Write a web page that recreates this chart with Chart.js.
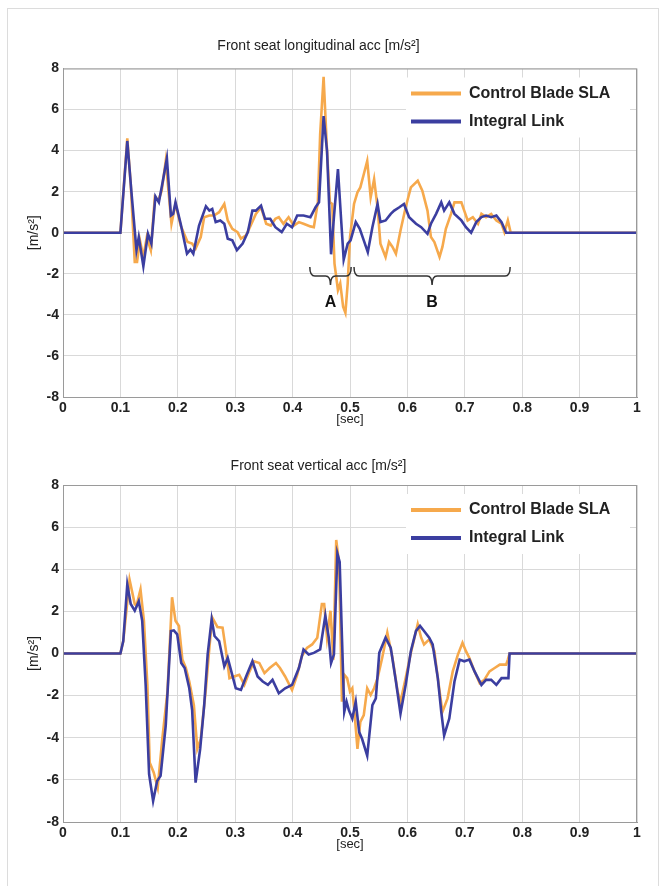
<!DOCTYPE html>
<html>
<head>
<meta charset="utf-8">
<script src="https://cdn.jsdelivr.net/npm/chart.js@4"></script>
<style>
  body { margin: 0; background: #fff; }
  #frame { position: absolute; left: 7px; top: 8px; width: 650px; height: 900px; border: 1px solid #dcdcdc; }
  canvas { position: absolute; left: 0; }
  #longChart { top: 0; }
  #vertChart { top: 443px; }
</style>
</head>
<body>
<div id="frame"></div>
<canvas id="longChart" width="666" height="443"></canvas>
<canvas id="vertChart" width="666" height="443"></canvas>
<script>

const seriesNames = ['Control Blade SLA', 'Integral Link'];
const seriesColors = ['#F6A94C', '#3B3EA0'];

const xTicks = [0, 0.1, 0.2, 0.3, 0.4, 0.5, 0.6, 0.7, 0.8, 0.9, 1];
const yTicks = [-8, -6, -4, -2, 0, 2, 4, 6, 8];

// front seat longitudinal acc, Control Blade SLA
const tLongCtrl = [0, 0.1, 0.112, 0.118, 0.125, 0.129, 0.134, 0.140, 0.146, 0.153, 0.160, 0.166, 0.172, 0.179, 0.189, 0.196, 0.205, 0.217, 0.225, 0.231, 0.240, 0.246, 0.255, 0.263, 0.272, 0.281, 0.287, 0.295, 0.304, 0.310, 0.319, 0.327, 0.336, 0.345, 0.354, 0.362, 0.370, 0.376, 0.384, 0.393, 0.402, 0.411, 0.419, 0.431, 0.437, 0.444, 0.448, 0.454, 0.460, 0.465, 0.469, 0.473, 0.479, 0.483, 0.488, 0.492, 0.496, 0.500, 0.507, 0.513, 0.518, 0.524, 0.530, 0.536, 0.542, 0.548, 0.553, 0.562, 0.568, 0.574, 0.580, 0.588, 0.597, 0.606, 0.618, 0.626, 0.635, 0.641, 0.647, 0.656, 0.661, 0.667, 0.676, 0.682, 0.694, 0.699, 0.705, 0.714, 0.723, 0.729, 0.737, 0.746, 0.755, 0.764, 0.769, 0.775, 0.780, 1];
const longCtrl = [0, 0, 4.6, 2.37, -1.42, -1.42, -0.37, -1.18, -0.21, -0.85, 1.73, 1.56, 2.05, 3.5, 0.44, 1.4, 0.35, -0.45, -0.53, -0.77, -0.21, 0.76, 0.84, 0.84, 1.0, 1.4, 0.6, 0.19, 0.03, -0.29, -0.13, 0.35, 0.92, 1.24, 0.44, 0.35, 0.68, 0.76, 0.44, 0.76, 0.35, 0.52, 0.44, 0.31, 0.27, 1.48, 4.79, 7.6, 3.98, 1.48, 1.4, -1.5, -2.79, -2.47, -3.6, -3.9, -2.47, -0.21, 1.4, 1.97, 2.21, 2.85, 3.5, 1.73, 2.61, 1.24, -0.53, -1.18, -0.45, -0.69, -1.02, 0.11, 1.24, 2.21, 2.53, 2.05, 1.08, -0.21, -0.45, -1.18, -0.69, 0.19, 0.92, 1.48, 1.48, 1.08, 0.6, 0.76, 0.44, 0.92, 0.76, 0.92, 0.6, 0.44, 0.03, 0.6, 0, 0];

// front seat longitudinal acc, Integral Link
const tLongLink = [0, 0.1, 0.112, 0.119, 0.128, 0.132, 0.140, 0.148, 0.154, 0.161, 0.167, 0.173, 0.181, 0.188, 0.192, 0.196, 0.205, 0.216, 0.222, 0.227, 0.237, 0.249, 0.255, 0.260, 0.266, 0.274, 0.281, 0.287, 0.295, 0.303, 0.313, 0.322, 0.330, 0.336, 0.345, 0.352, 0.361, 0.370, 0.381, 0.390, 0.399, 0.408, 0.419, 0.431, 0.440, 0.446, 0.454, 0.460, 0.467, 0.472, 0.479, 0.485, 0.489, 0.496, 0.501, 0.510, 0.517, 0.524, 0.531, 0.539, 0.548, 0.553, 0.562, 0.571, 0.577, 0.586, 0.594, 0.603, 0.615, 0.624, 0.635, 0.641, 0.650, 0.659, 0.664, 0.673, 0.682, 0.694, 0.702, 0.711, 0.720, 0.729, 0.737, 0.746, 0.755, 0.764, 0.772, 1];
const longLink = [0, 0, 4.47, 2.05, -0.85, -0.21, -1.63, -0.05, -0.53, 1.77, 1.48, 2.37, 3.63, 0.84, 0.92, 1.48, 0.44, -1.02, -0.82, -1.02, 0.35, 1.29, 1.08, 1.16, 0.52, 0.6, 0.44, -0.29, -0.37, -0.85, -0.53, 0.03, 1.08, 1.08, 1.32, 0.68, 0.68, 0.27, 0.03, 0.44, 0.27, 0.84, 0.84, 0.76, 1.24, 1.48, 5.68, 3.98, -1.05, 0.76, 3.1, 0.44, -1.31, -0.53, -0.37, 0.52, 0.19, -0.37, -0.94, 0.27, 1.4, 0.52, 0.6, 0.92, 1.08, 1.24, 1.4, 0.76, 0.44, 0.27, -0.05, 0.44, 0.92, 1.48, 1.08, 1.48, 0.92, 0.6, 0.27, 0, 0.52, 0.76, 0.84, 0.76, 0.84, 0.52, 0, 0];

// front seat vertical acc, Control Blade SLA
const tVertCtrl = [0, 0.1, 0.105, 0.116, 0.125, 0.128, 0.135, 0.141, 0.147, 0.151, 0.158, 0.165, 0.173, 0.182, 0.190, 0.196, 0.202, 0.208, 0.214, 0.220, 0.228, 0.234, 0.240, 0.249, 0.255, 0.260, 0.269, 0.278, 0.284, 0.290, 0.298, 0.307, 0.316, 0.325, 0.333, 0.342, 0.351, 0.360, 0.371, 0.378, 0.387, 0.399, 0.408, 0.416, 0.425, 0.434, 0.443, 0.451, 0.455, 0.460, 0.466, 0.471, 0.476, 0.481, 0.486, 0.490, 0.495, 0.500, 0.504, 0.508, 0.513, 0.518, 0.524, 0.530, 0.536, 0.542, 0.548, 0.556, 0.565, 0.574, 0.583, 0.588, 0.597, 0.606, 0.618, 0.624, 0.629, 0.638, 0.647, 0.653, 0.661, 0.670, 0.679, 0.688, 0.696, 0.702, 0.708, 0.717, 0.726, 0.734, 0.743, 0.752, 0.761, 0.772, 0.775, 0.778, 1];
const vertCtrl = [0, 0, 0.59, 3.5, 2.35, 2.27, 3.04, 1.55, -1.49, -5.17, -5.65, -6.37, -4.05, -1.81, 2.67, 1.55, 1.31, -0.29, -0.69, -1.33, -2.45, -4.53, -4.05, -1.65, 0.27, 1.71, 1.26, 1.23, 0.11, -1.17, -1.09, -1.01, -1.49, -0.85, -0.37, -0.45, -0.93, -0.69, -0.45, -0.69, -1.09, -1.73, -1.01, -0.13, 0.27, 0.43, 0.75, 2.35, 2.35, 0.75, 2.03, -0.29, 5.39, 4.27, -2.29, -1.01, -1.17, -1.81, -1.65, -2.85, -4.53, -3.25, -2.93, -1.65, -1.97, -1.65, -1.17, -0.21, 0.99, -0.21, -1.81, -2.29, -1.17, 0.03, 1.39, 0.75, 0.43, 0.67, 0.11, -1.17, -2.77, -2.13, -0.85, -0.05, 0.51, 0.11, -0.21, -0.85, -1.41, -1.25, -0.85, -0.69, -0.53, -0.53, -0.29, 0, 0];

// front seat vertical acc, Integral Link
const tVertLink = [0, 0.1, 0.105, 0.112, 0.118, 0.125, 0.132, 0.138, 0.144, 0.150, 0.157, 0.164, 0.170, 0.179, 0.188, 0.193, 0.199, 0.206, 0.212, 0.220, 0.225, 0.231, 0.239, 0.246, 0.252, 0.259, 0.264, 0.272, 0.281, 0.287, 0.294, 0.301, 0.310, 0.319, 0.330, 0.339, 0.348, 0.357, 0.365, 0.376, 0.387, 0.399, 0.411, 0.419, 0.428, 0.437, 0.448, 0.457, 0.463, 0.467, 0.472, 0.478, 0.482, 0.486, 0.490, 0.494, 0.498, 0.504, 0.510, 0.516, 0.521, 0.530, 0.539, 0.545, 0.551, 0.562, 0.571, 0.580, 0.588, 0.597, 0.606, 0.615, 0.622, 0.629, 0.638, 0.644, 0.653, 0.659, 0.664, 0.673, 0.682, 0.691, 0.699, 0.708, 0.717, 0.729, 0.737, 0.746, 0.755, 0.764, 0.776, 0.778, 1];
const vertLink = [0, 0, 0.59, 3.28, 2.35, 2.03, 2.48, 1.55, -1.49, -5.73, -7.0, -6.05, -5.81, -3.41, 1.07, 1.1, 0.91, -0.45, -0.69, -1.65, -2.69, -6.13, -4.53, -2.45, -0.05, 1.63, 0.83, 0.59, -0.61, -0.21, -0.93, -1.65, -1.73, -1.09, -0.37, -1.09, -1.33, -1.49, -1.25, -1.89, -1.65, -1.49, -0.69, 0.19, -0.05, 0.03, 0.19, 1.79, 0.75, -0.45, -0.05, 4.75, 4.35, 0.75, -2.77, -2.29, -2.69, -3.09, -2.29, -3.73, -4.05, -4.85, -2.45, -2.13, 0.03, 0.75, 0.27, -1.33, -2.85, -1.49, 0.11, 1.07, 1.31, 1.07, 0.75, 0.43, -1.17, -2.77, -3.89, -3.09, -1.33, -0.29, -0.37, -0.29, -0.85, -1.49, -1.25, -1.25, -1.49, -1.17, -1.17, 0, 0];

// braces under the longitudinal plot (time range + label)
const braceFrom = [0.430, 0.507];
const braceTo = [0.502, 0.779];
const braceLabels = ['A', 'B'];

const FONT = "'Liberation Sans', Arial, sans-serif";

function toPoints(ts, vals) {
    return ts.map((t, i) => ({x: t, y: vals[i]}));
}

//box round the plot area, like matlab
const boxPlugin = {
    id: 'box',
    afterDatasetsDraw(chart) {
        const a = chart.chartArea;
        const ctx = chart.ctx;
        ctx.save();
        ctx.strokeStyle = '#9a9a9a';
        ctx.lineWidth = 1;
        ctx.strokeRect(a.left + 0.5, a.top + 0.5, a.right - a.left - 1, a.bottom - a.top);
        ctx.restore();
    }
};

//legend drawn inside the plot, top right
const innerLegend = {
    id: 'innerLegend',
    afterDatasetsDraw(chart) {
        const a = chart.chartArea;
        const ctx = chart.ctx;
        ctx.save();
        ctx.fillStyle = '#fff';
        ctx.fillRect(a.right - 231, a.top + 9, 224, 60);
        chart.data.datasets.forEach((ds, i) => {
            const y = a.top + 25 + i * 28;
            ctx.strokeStyle = ds.borderColor;
            ctx.lineWidth = 4;
            ctx.beginPath();
            ctx.moveTo(a.right - 226, y);
            ctx.lineTo(a.right - 176, y);
            ctx.stroke();
            ctx.fillStyle = '#222';
            ctx.font = 'bold 16px ' + FONT;
            ctx.textBaseline = 'middle';
            ctx.fillText(ds.label, a.right - 168, y);
        });
        ctx.restore();
    }
};

//curly braces A / B
const bracePlugin = {
    id: 'braces',
    afterDatasetsDraw(chart) {
        const xs = chart.scales.x;
        const ys = chart.scales.y;
        const ctx = chart.ctx;
        const yTop = ys.getPixelForValue(-1.67);
        const yLine = ys.getPixelForValue(-2.11);
        const yTip = ys.getPixelForValue(-2.55);
        const yText = ys.getPixelForValue(-3.4);
        ctx.save();
        ctx.strokeStyle = '#333';
        ctx.lineWidth = 1.5;
        for (let i = 0; i < braceFrom.length; i++) {
            const x0 = xs.getPixelForValue(braceFrom[i]);
            const x1 = xs.getPixelForValue(braceTo[i]);
            const xc = (x0 + x1) / 2;
            const r = 5;
            ctx.beginPath();
            ctx.moveTo(x0, yTop);
            ctx.quadraticCurveTo(x0, yLine, x0 + r, yLine);
            ctx.lineTo(xc - r, yLine);
            ctx.quadraticCurveTo(xc, yLine, xc, yTip);
            ctx.quadraticCurveTo(xc, yLine, xc + r, yLine);
            ctx.lineTo(x1 - r, yLine);
            ctx.quadraticCurveTo(x1, yLine, x1, yTop);
            ctx.stroke();
            ctx.fillStyle = '#111';
            ctx.font = 'bold 16px ' + FONT;
            ctx.textAlign = 'center';
            ctx.textBaseline = 'middle';
            ctx.fillText(braceLabels[i], xc, yText);
        }
        ctx.restore();
    }
};

function buildChart(id, title, series, opts) {
    const ctx = document.getElementById(id).getContext('2d');
    const plugins = [boxPlugin, innerLegend];
    if (opts.braces) plugins.push(bracePlugin);

    return new Chart(ctx, {
        type: 'line',
        data: {
            datasets: series.map((s, i) => ({
                label: seriesNames[i],
                data: toPoints(s[0], s[1]),
                borderColor: seriesColors[i],
                backgroundColor: seriesColors[i],
                borderWidth: 2.6,
                pointRadius: 0,
                tension: 0,
                fill: false,
                order: 2 - i
            }))
        },
        options: {
            responsive: false,
            animation: false,
            devicePixelRatio: 1,
            layout: { padding: { left: 0, right: 29, top: 0, bottom: 0 } },
            plugins: {
                legend: { display: false },
                tooltip: { enabled: false },
                title: {
                    display: true,
                    text: title,
                    color: '#222',
                    font: { family: FONT, size: 14, weight: 'normal' },
                    padding: { top: opts.titleTop, bottom: opts.titleBottom }
                }
            },
            scales: {
                x: {
                    type: 'linear',
                    min: 0,
                    max: 1,
                    afterBuildTicks: (scale) => { scale.ticks = xTicks.map(v => ({value: v})); },
                    ticks: {
                        color: '#222',
                        padding: 3,
                        maxRotation: 0,
                        font: { family: FONT, size: 14, weight: 'bold' },
                        callback: (v) => String(Number(Number(v).toFixed(1)))
                    },
                    grid: { color: '#d9d9d9', drawTicks: false },
                    border: { color: '#9a9a9a' },
                    title: {
                        display: true,
                        text: '[sec]',
                        color: '#222',
                        font: { family: FONT, size: 13 },
                        padding: { top: 0, bottom: opts.xTitleBottom }
                    },
                    afterFit: (scale) => { scale.height = opts.xHeight; }
                },
                y: {
                    min: -8,
                    max: 8,
                    afterBuildTicks: (scale) => { scale.ticks = yTicks.map(v => ({value: v})); },
                    ticks: {
                        color: '#222',
                        padding: 4,
                        font: { family: FONT, size: 14, weight: 'bold' }
                    },
                    grid: { color: '#d9d9d9', drawTicks: false },
                    border: { color: '#9a9a9a' },
                    title: {
                        display: true,
                        text: '[m/s\u00B2]',
                        color: '#222',
                        font: { family: FONT, size: 14 },
                        padding: { top: 26, bottom: 0 }
                    },
                    afterFit: (scale) => { scale.width = 63; }
                }
            }
        },
        plugins: plugins
    });
}

buildChart('longChart', 'Front seat longitudinal acc [m/s\u00B2]',
    [[tLongCtrl, longCtrl], [tLongLink, longLink]],
    { titleTop: 37.6, titleBottom: 14.1, xHeight: 46, xTitleBottom: 16, braces: true });

buildChart('vertChart', 'Front seat vertical acc [m/s\u00B2]',
    [[tVertCtrl, vertCtrl], [tVertLink, vertLink]],
    { titleTop: 14.6, titleBottom: 10.6, xHeight: 64, xTitleBottom: 34, braces: false });

</script>
</body>
</html>
